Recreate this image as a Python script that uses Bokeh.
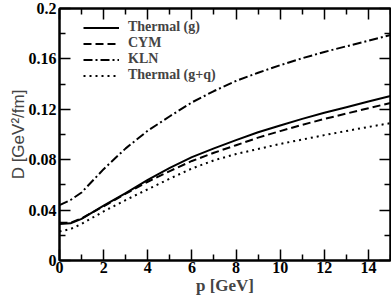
from bokeh.plotting import figure
from bokeh.models import (FixedTicker, LinearAxis, Legend, LegendItem,
                          Range1d, NumeralTickFormatter, CustomJSTickFormatter)
from bokeh.embed import file_html
from bokeh.resources import INLINE

# ---- data ----
p_vals = [0, 0.5, 1, 2, 3, 4, 5, 6, 7, 8, 9, 10, 11, 12, 13, 14, 15]
thermal_g = [0.029, 0.0295, 0.033, 0.0435, 0.0535, 0.064, 0.0735, 0.082, 0.089,
             0.0955, 0.1018, 0.1072, 0.1124, 0.1172, 0.1217, 0.1262, 0.1305]
cym = [0.030, 0.030, 0.0335, 0.043, 0.053, 0.0625, 0.071, 0.079, 0.0855,
       0.0915, 0.0975, 0.1027, 0.1077, 0.1123, 0.1166, 0.1209, 0.125]
kln = [0.044, 0.048, 0.054, 0.0725, 0.089, 0.103, 0.1145, 0.1255, 0.1345,
       0.1425, 0.149, 0.155, 0.1605, 0.1655, 0.170, 0.1745, 0.179]
thermal_gq = [0.023, 0.025, 0.029, 0.039, 0.048, 0.0565, 0.065, 0.073, 0.0795,
              0.0845, 0.0885, 0.0925, 0.096, 0.0995, 0.1028, 0.106, 0.109]

x_major = [0, 2, 4, 6, 8, 10, 12, 14]
x_minor = [1, 3, 5, 7, 9, 11, 13, 15]
y_major = [0, 0.04, 0.08, 0.12, 0.16, 0.2]
y_minor = [0.02, 0.06, 0.10, 0.14, 0.18]

series_names = ["Thermal (g)", "CYM", "KLN", "Thermal (g+q)"]
x_title = "p [GeV]"
y_title = "D [GeV\u00b2/fm]"

SERIF = "Liberation Serif"
SANS = "Liberation Sans"

p = figure(width=391, height=297, x_range=Range1d(0, 15), y_range=Range1d(0, 0.2),
           output_backend="svg", toolbar_location=None,
           min_border_left=59, min_border_right=1, min_border_top=8,
           min_border_bottom=34, x_axis_location=None, y_axis_location=None)
p.grid.visible = False
p.outline_line_color = "black"
p.outline_line_width = 2
p.background_fill_color = "white"
p.border_fill_color = "white"


def style_axis(ax, labels=True):
    ax.axis_line_width = 2
    ax.axis_line_color = "black"
    ax.major_tick_in = 11
    ax.major_tick_out = 0
    ax.minor_tick_in = 6
    ax.minor_tick_out = 0
    ax.major_tick_line_width = 1.5
    ax.minor_tick_line_width = 1.5
    ax.major_tick_line_color = "black"
    ax.minor_tick_line_color = "black"
    if labels:
        ax.major_label_text_font = SERIF
        ax.major_label_text_font_style = "bold"
        ax.major_label_text_font_size = "16px"
        ax.major_label_text_color = "black"
    else:
        ax.formatter = CustomJSTickFormatter(code="return ''")
        ax.major_label_text_font_size = "1px"
        ax.major_label_standoff = 0


xt = FixedTicker(ticks=x_major, minor_ticks=x_minor)
yt = FixedTicker(ticks=y_major, minor_ticks=y_minor)

bx = LinearAxis(ticker=xt, axis_label=x_title)
style_axis(bx)
bx.major_label_standoff = 1
bx.axis_label_standoff = 0
bx.axis_label_text_font = SERIF
bx.axis_label_text_font_style = "bold"
bx.axis_label_text_font_size = "17px"
p.add_layout(bx, "below")

ly = LinearAxis(ticker=yt, formatter=NumeralTickFormatter(format="0.[00]"),
                axis_label=y_title)
style_axis(ly)
ly.major_label_standoff = 3
ly.axis_label_standoff = -2
ly.axis_label_text_font = SANS
ly.axis_label_text_font_style = "normal"
ly.axis_label_text_font_size = "17px"
p.add_layout(ly, "left")

tx = LinearAxis(ticker=xt)
style_axis(tx, labels=False)
p.add_layout(tx, "above")

ry = LinearAxis(ticker=yt)
style_axis(ry, labels=False)
p.add_layout(ry, "right")

r1 = p.line(p_vals, thermal_g, line_color="black", line_width=2)
r2 = p.line(p_vals, cym, line_color="black", line_width=2, line_dash="8 4")
r3 = p.line(p_vals, kln, line_color="black", line_width=2, line_dash="9 3 2 3")
r4 = p.line(p_vals, thermal_gq, line_color="black", line_width=2, line_dash="2 4")

legend = Legend(items=[LegendItem(label=n, renderers=[r]) for n, r in
                       zip(series_names, [r1, r2, r3, r4])],
                location=(24, 177))
legend.background_fill_alpha = 0
legend.border_line_color = None
legend.padding = 0
legend.margin = 0
legend.spacing = 0
legend.glyph_width = 36
legend.glyph_height = 15
legend.label_height = 15
legend.label_standoff = 9
legend.label_text_font = SERIF
legend.label_text_font_style = "bold"
legend.label_text_font_size = "14px"
p.add_layout(legend)

open("out.html", "w").write(file_html(p, INLINE))
